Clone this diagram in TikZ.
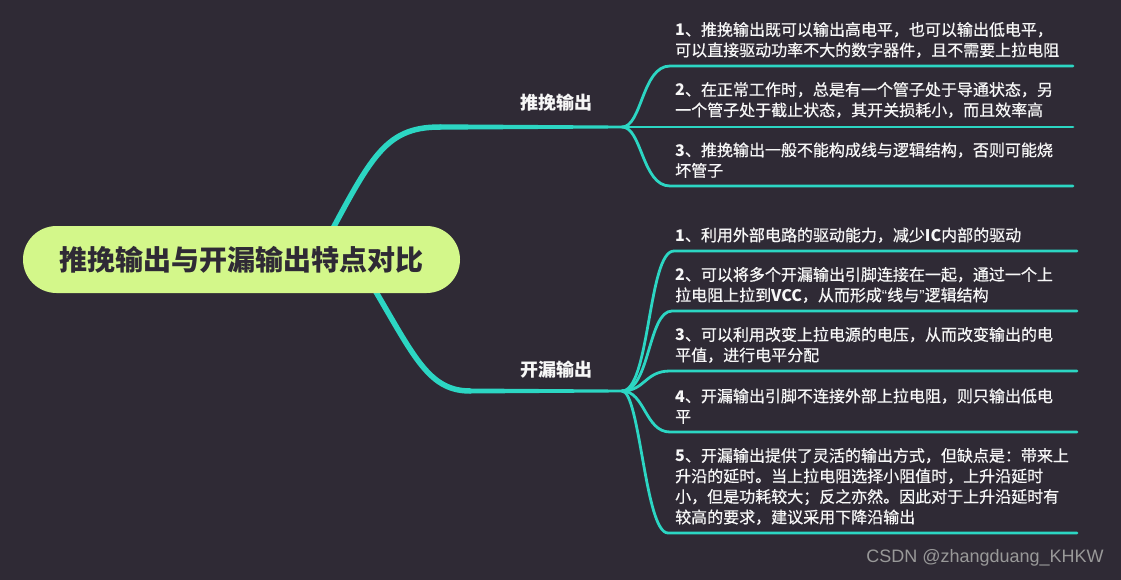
\documentclass[tikz,border=0pt]{standalone}
\usepackage{fontspec}
\setmainfont{Noto Sans CJK SC}
\newfontfamily\cjk[FakeBold=0.6]{Noto Sans CJK SC}
\newfontfamily\cjkb{Noto Sans CJK SC}
\newfontfamily\wmfont{Liberation Sans}
\definecolor{bgc}{HTML}{2F2A35}
\definecolor{lnc}{HTML}{2CD6C3}
\definecolor{rootc}{HTML}{D3F78A}
\definecolor{txtc}{HTML}{F7F7F7}
\newcommand{\myqopen}{{\wmfont\char"201C}}
\newcommand{\myqclose}{{\wmfont\char"201D}}
\tikzset{
  childtxt/.style={anchor=south west, inner sep=0pt, align=left, text=txtc,
    font=\cjk\fontsize{16}{20.5}\selectfont},
  childln/.style={draw=lnc, line width=2.8pt, line cap=round},
  mainln/.style={draw=lnc, line width=5.5pt, line cap=round},
  branchlbl/.style={inner sep=0pt, text=txtc, font=\cjkb\bfseries\fontsize{18}{20}\selectfont},
}
\begin{document}
\begin{tikzpicture}[x=1pt,y=-1pt]
\fill[bgc] (0,0) rectangle (1121,580);
\useasboundingbox (0,0) rectangle (1121,580);

% key coordinates
\coordinate (ups) at (316,260);
\coordinate (upc) at (440,127);
\coordinate (ppf) at (622,127);
\coordinate (los) at (344,240);
\coordinate (loc) at (470,391);
\coordinate (odf) at (622,391);

% main branches
\draw[mainln] (ups) .. controls (370,160) and (382,127) .. (upc);
\fill[lnc] (440,124.3) -- (622,125.6) -- (622,128.4) -- (440,129.7) -- cycle;
\draw[mainln] (los) .. controls (409,340) and (420,391) .. (loc);
\fill[lnc] (470,388.5) -- (622,389.6) -- (622,392.4) -- (470,393.5) -- cycle;

% root
\node[fill=rootc, minimum width=437pt, minimum height=67pt, rounded corners=33.5pt,
  inner sep=0pt, text=bgc, font=\cjkb\bfseries\fontsize{28}{30}\selectfont]
  (root) at (241.5,259.5) {推挽输出与开漏输出特点对比};

% branch labels
\node[branchlbl] (pp) at (556,103) {推挽输出};
\node[branchlbl] (od) at (556,370) {开漏输出};

% push-pull children
\coordinate (pp1s) at (670,66);  \coordinate (pp1e) at (1073,66);
\coordinate (pp2e) at (1073,127);
\coordinate (pp3s) at (670,186); \coordinate (pp3e) at (1073,186);
\draw[childln] (ppf) .. controls (642,127) and (642,66) .. (pp1s) -- (pp1e);
\draw[childln] (ppf) -- (pp2e);
\draw[childln] (ppf) .. controls (642,127) and (642,186) .. (pp3s) -- (pp3e);

\node[childtxt] (pp1) at (675,58) {{\cjkb\bfseries 1}、推挽输出既可以输出高电平，也可以输出低电平，\\可以直接驱动功率不大的数字器件，且不需要上拉电阻};
\node[childtxt] (pp2) at (675,118) {{\cjkb\bfseries 2}、在正常工作时，总是有一个管子处于导通状态，另\\一个管子处于截止状态，其开关损耗小，而且效率高};
\node[childtxt] (pp3) at (675,178) {{\cjkb\bfseries 3}、推挽输出一般不能构成线与逻辑结构，否则可能烧\\坏管子};

% open-drain children
\coordinate (od1s) at (674,251); \coordinate (od1e) at (1077,251);
\coordinate (od2s) at (672,311); \coordinate (od2e) at (1077,311);
\coordinate (od3s) at (670,371); \coordinate (od3e) at (1077,371);
\coordinate (od4s) at (670,432); \coordinate (od4e) at (1077,432);
\coordinate (od5s) at (668,533); \coordinate (od5e) at (1077,533);
\draw[childln] (odf) .. controls (650,391) and (648,251) .. (od1s) -- (od1e);
\draw[childln] (odf) .. controls (650,391) and (648,311) .. (od2s) -- (od2e);
\draw[childln] (odf) .. controls (645,391) and (645,371) .. (od3s) -- (od3e);
\draw[childln] (odf) .. controls (645,391) and (645,432) .. (od4s) -- (od4e);
\draw[childln] (odf) .. controls (640,391) and (645,533) .. (od5s) -- (od5e);

\node[childtxt] (od1) at (675,243) {{\cjkb\bfseries 1}、利用外部电路的驱动能力，减少{\cjkb\bfseries IC}内部的驱动};
\node[childtxt] (od2) at (675,303) {{\cjkb\bfseries 2}、可以将多个开漏输出引脚连接在一起，通过一个上\\拉电阻上拉到{\cjkb\bfseries VCC}，从而形成\myqopen 线与\myqclose 逻辑结构};
\node[childtxt] (od3) at (675,363) {{\cjkb\bfseries 3}、可以利用改变上拉电源的电压，从而改变输出的电\\平值，进行电平分配};
\node[childtxt] (od4) at (675,424) {{\cjkb\bfseries 4}、开漏输出引脚不连接外部上拉电阻，则只输出低电\\平};
\node[childtxt] (od5) at (675,525) {{\cjkb\bfseries 5}、开漏输出提供了灵活的输出方式，但缺点是：带来上\\升沿的延时。当上拉电阻选择小阻值时，上升沿延时\\小，但是功耗较大；反之亦然。因此对于上升沿延时有\\较高的要求，建议采用下降沿输出};

% watermark
\node[inner sep=0pt, text=black!40!white, font=\wmfont\fontsize{18}{20}\selectfont]
  (wm) at (985,558) {CSDN @zhangduang\_KHKW};
\end{tikzpicture}
\end{document}
